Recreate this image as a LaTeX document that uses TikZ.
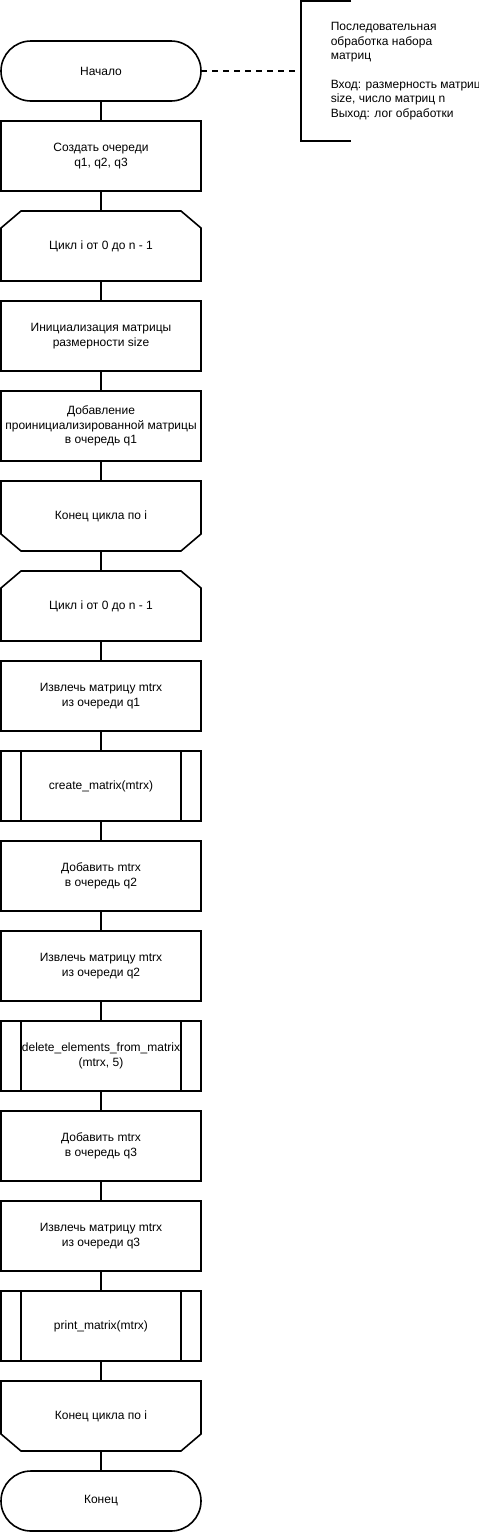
\documentclass[tikz,border=0pt]{standalone}
\usepackage{fontspec}
\setmainfont{Liberation Sans}
\usetikzlibrary{positioning}
\tikzset{
  blk/.style={minimum width=200pt, minimum height=70pt, inner sep=0pt, outer sep=0pt, align=center, font=\fontsize{12}{14.4}\selectfont},
  proc/.style={blk, draw},
  term/.style={blk, draw, rounded corners=30pt, minimum height=60pt},
  cyc/.style={blk},
  sub/.style={blk, draw},
  note/.style={anchor=west, inner sep=0pt, align=left, font=\fontsize{12}{14.4}\selectfont}
}
\begin{document}
\begin{tikzpicture}[x=1pt, y=1pt, line width=1.6pt, node distance=20pt]
  \useasboundingbox (0,0) rectangle (479,-1532);
  \node[term] (start) at (101,-71) {Начало};
  \node[proc, below=of start] (mkq) {Создать очереди\\q1, q2, q3};
  \node[cyc, below=of mkq] (cyc1) {Цикл i от 0 до n - 1};
  \node[proc, below=of cyc1] (init) {Инициализация матрицы\\размерности size};
  \node[proc, below=of init] (push1) {Добавление\\проинициализированной матрицы\\в очередь q1};
  \node[cyc, below=of push1] (endc1) {Конец цикла по i};
  \node[cyc, below=of endc1] (cyc2) {Цикл i от 0 до n - 1};
  \node[proc, below=of cyc2] (pop1) {Извлечь матрицу mtrx\\из очереди q1};
  \node[sub, below=of pop1] (create) {create\_matrix(mtrx)};
  \node[proc, below=of create] (push2) {Добавить mtrx\\в очередь q2};
  \node[proc, below=of push2] (pop2) {Извлечь матрицу mtrx\\из очереди q2};
  \node[sub, below=of pop2] (del) {delete\_elements\_from\_matrix\\(mtrx, 5)};
  \node[proc, below=of del] (push3) {Добавить mtrx\\в очередь q3};
  \node[proc, below=of push3] (pop3) {Извлечь матрицу mtrx\\из очереди q3};
  \node[sub, below=of pop3] (print) {print\_matrix(mtrx)};
  \node[cyc, below=of print] (endc2) {Конец цикла по i};
  \node[term, below=of endc2] (stop) {Конец};

  \foreach \n in {cyc1,cyc2}
    \draw (\n.south west) -- ([yshift=-17pt]\n.north west) -- ([xshift=20pt]\n.north west)
      -- ([xshift=-20pt]\n.north east) -- ([yshift=-17pt]\n.north east) -- (\n.south east) -- cycle;
  \foreach \n in {endc1,endc2}
    \draw (\n.north west) -- ([yshift=17pt]\n.south west) -- ([xshift=20pt]\n.south west)
      -- ([xshift=-20pt]\n.south east) -- ([yshift=17pt]\n.south east) -- (\n.north east) -- cycle;
  \foreach \n in {create,del,print}
    \draw ([xshift=20pt]\n.north west) -- ([xshift=20pt]\n.south west)
      ([xshift=-20pt]\n.north east) -- ([xshift=-20pt]\n.south east);

  \foreach \a/\b in {start/mkq,mkq/cyc1,cyc1/init,init/push1,push1/endc1,endc1/cyc2,cyc2/pop1,
    pop1/create,create/push2,push2/pop2,pop2/del,del/push3,push3/pop3,pop3/print,print/endc2,endc2/stop}
    \draw (\a) -- (\b);

  \node[note] (txt) at (330,-71) {Последовательная\\обработка набора\\матриц\\[14.4pt]Вход: размерность матриц\\size, число матриц n\\Выход: лог обработки};
  \coordinate (brk) at (301,-71);
  \draw (351,-1) -- (301,-1) -- (301,-141) -- (351,-141);
  \draw[dash pattern=on 6pt off 5pt] (start) -- (brk);
\end{tikzpicture}
\end{document}
